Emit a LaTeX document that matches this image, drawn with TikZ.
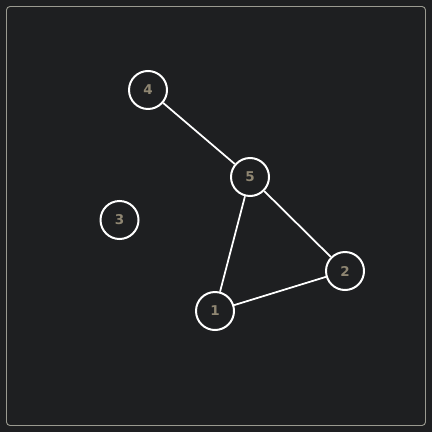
\documentclass[tikz,border=0pt]{standalone}
\usepackage{fontspec}
\setmainfont{DejaVu Sans}
\usetikzlibrary{positioning}
\definecolor{bgdark}{HTML}{1E1F21}
\definecolor{framegray}{HTML}{9A9A90}
\definecolor{labeltan}{HTML}{8F8672}
\tikzset{
  vertex/.style={circle, draw=white, line width=1.7pt, minimum size=1.14cm,
    inner sep=0pt, text=labeltan, font=\bfseries\fontsize{11.5}{13}\selectfont},
  link/.style={draw=white, line width=1.5pt}
}
\begin{document}
\begin{tikzpicture}[x=0.03cm, y=-0.03cm]

  \fill[bgdark] (0,0) rectangle (432,432);
  \draw[framegray, line width=0.8pt, rounded corners=3pt] (6.5,6.5) rectangle (425.5,425.5);

  \node[vertex] (v4) at (148,90) {4};
  \node[vertex] (v5) at (250,177) {5};
  \node[vertex] (v3) at (119.5,220) {3};
  \node[vertex] (v2) at (345,271) {2};
  \node[vertex] (v1) at (215,311) {1};

  \draw[link] (v4) -- (v5);
  \draw[link] (v5) -- (v1);
  \draw[link] (v5) -- (v2);
  \draw[link] (v1) -- (v2);

\end{tikzpicture}
\end{document}
